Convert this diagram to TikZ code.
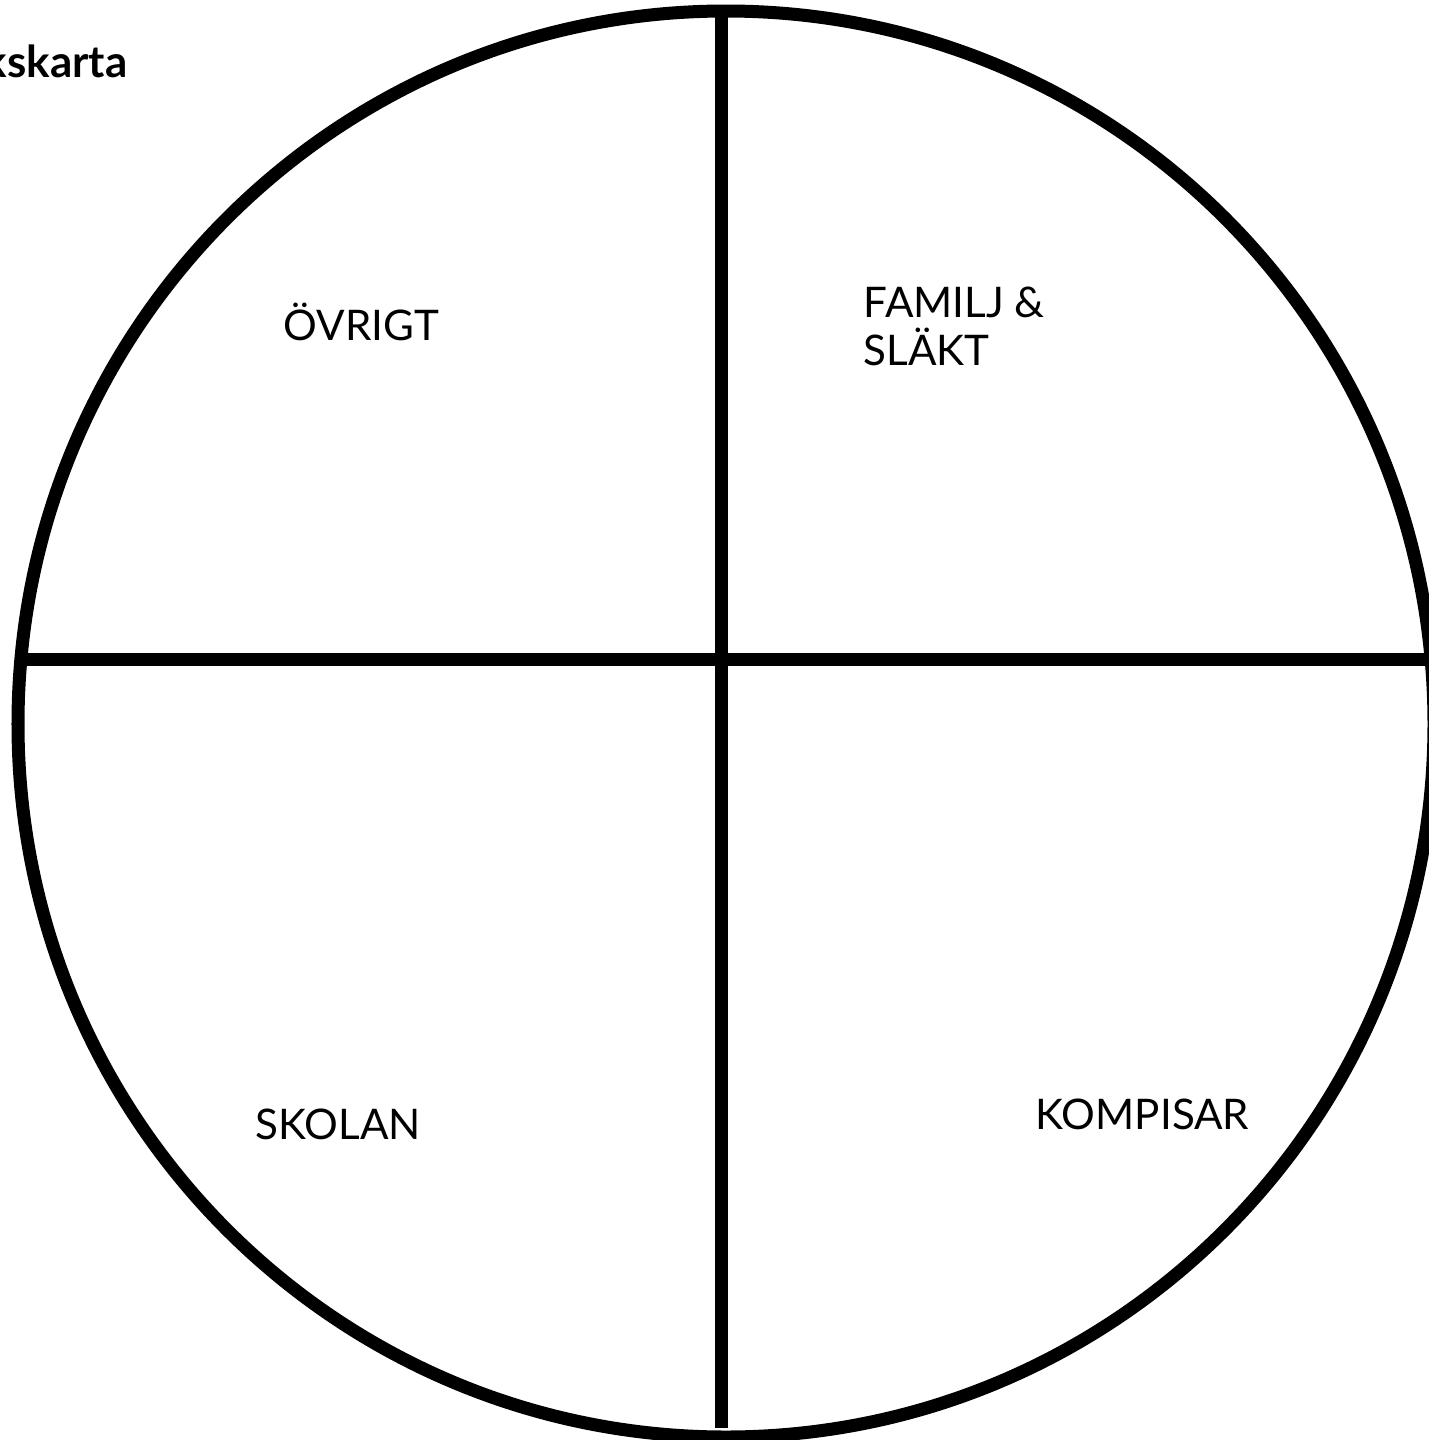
\documentclass[tikz,border=0pt]{standalone}
\usepackage{fontspec}
\setmainfont{Lato}
\usepackage{tikz}
\usetikzlibrary{positioning}

\tikzset{
  sector/.style={font=\fontsize{12}{13.4}\selectfont, inner sep=0pt, align=left},
  divider/.style={line width=3.7pt, black}
}

\begin{document}
\begin{tikzpicture}
% Page frame (picture is cropped on the left and right)
\useasboundingbox (0,0) rectangle (14.29,-14.40);
% Title, cut off at the left edge
\node[font=\bfseries\fontsize{12.5}{15}\selectfont, inner sep=0pt, anchor=base east] (title) at (1.28,-0.77) {kskarta};
% Outer circle
\draw[divider] (7.26,-7.24) ellipse [x radius=7.08, y radius=7.13];
% Quarter dividers
\draw[divider] (7.21,-0.12) -- (7.21,-14.28);
\draw[divider] (0.20,-6.59) -- (14.40,-6.59);
% Sector labels
\node[sector, anchor=base west] (ovrigt) at (2.83,-3.40) {ÖVRIGT};
\node[sector, anchor=base west] (familj) at (8.63,-3.65) {FAMILJ \&\\SLÄKT};
\node[sector, anchor=base west] (skolan) at (2.55,-11.39) {SKOLAN};
\node[sector, anchor=base west] (kompisar) at (10.35,-11.29) {KOMPISAR};
\end{tikzpicture}
\end{document}
